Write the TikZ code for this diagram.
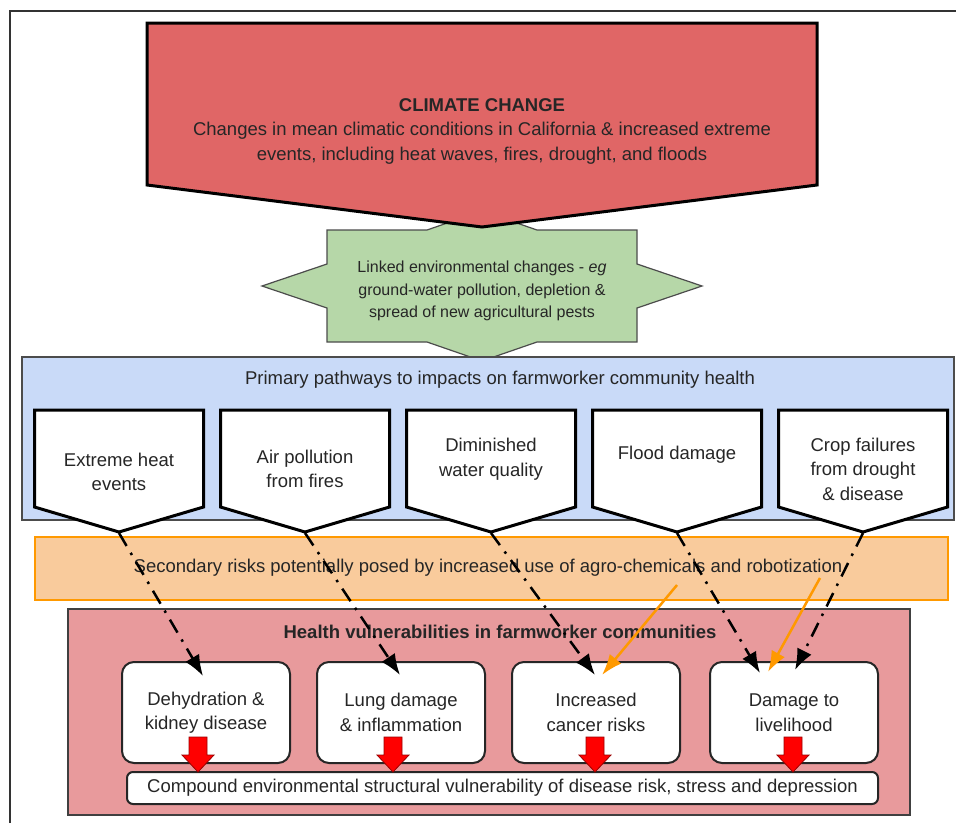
\documentclass[tikz,border=0pt]{standalone}
\usepackage{fontspec}
\setmainfont{Liberation Sans}
\usepackage{tikz}
\usetikzlibrary{arrows.meta,positioning}
\definecolor{climatered}{HTML}{E06666}
\definecolor{linkgreen}{HTML}{B6D7A8}
\definecolor{pathblue}{HTML}{C9DAF8}
\definecolor{riskorange}{HTML}{F9CB9C}
\definecolor{riskline}{HTML}{FF9900}
\definecolor{healthpink}{HTML}{E89A9C}

\begin{document}
\begin{tikzpicture}[x=1pt, y=-1pt,
    txt/.style={font=\fontsize{18.5}{24.5}\selectfont, align=center, text=black!85, inner sep=0pt},
    pathbox/.style={draw=black, line width=3pt, fill=white, line join=miter},
    vulbox/.style={draw=black!85, line width=2pt, fill=white, rounded corners=12pt, minimum width=168pt, minimum height=101pt, txt},
    chain/.style={line width=2.5pt, dash pattern=on 15pt off 8pt on 2.5pt off 8pt, -{Latex[length=21pt,width=16pt]}},
    sidearrow/.style={riskline, line width=2.5pt, -{Latex[length=21pt,width=15pt]}}
]
\useasboundingbox (0,0) rectangle (956,823);

% Frame
\draw[line width=2pt, black!80] (10,823) -- (10,11) -- (956,11);

% Linked changes (star, partly under the other boxes)
\draw[fill=linkgreen, draw=black!70, line width=1.2pt]
    (482,211) -- (537,230) -- (637,230) -- (637,264) -- (702,286) -- (637,308) -- (637,342)
    -- (537,342) -- (482,361) -- (427,342) -- (327,342) -- (327,308) -- (262,286) -- (327,264)
    -- (327,230) -- (427,230) -- cycle;
\node[txt, font=\fontsize{16}{22.5}\selectfont] (linked) at (482,291)
    {Linked environmental changes - \textit{eg}\\ground-water pollution, depletion \&\\spread of new agricultural pests};

% Climate change
\draw[fill=climatered, draw=black, line width=3pt, line join=miter]
    (147,23) -- (817,23) -- (817,185) -- (482,227) -- (147,185) -- cycle;
\node[txt] (climate) at (482,131) {\textbf{CLIMATE CHANGE}\\Changes in mean climatic conditions in California \& increased extreme\\events, including heat waves, fires, drought, and floods};

% Primary pathways
\draw[fill=pathblue, draw=black!70, line width=1.5pt] (22,357) rectangle (954,520);
\node[txt] (primary) at (500,380) {Primary pathways to impacts on farmworker community health};
\foreach \i in {1,...,5} {
    \draw[pathbox] ({119+186*(\i-1)-84.5},410) -- ({119+186*(\i-1)+84.5},410) -- ({119+186*(\i-1)+84.5},507)
        -- ({119+186*(\i-1)},532) -- ({119+186*(\i-1)-84.5},507) -- cycle;
    \coordinate (tip\i) at ({119+186*(\i-1)},533);
}
\foreach \i/\ty/\t in {1/472/{Extreme heat\\events}, 2/469/{Air pollution\\from fires}, 3/459/{Diminished\\water quality},
                       4/455/{Flood damage}, 5/469/{Crop failures\\from drought\\\& disease}} {
    \node[txt] (path\i) at ({119+186*(\i-1)},\ty) {\t};
}

% Secondary risks
\draw[fill=riskorange, draw=riskline, line width=2.5pt] (35,537) rectangle (948,600);
\node[txt] (secondary) at (488,568) {Secondary risks potentially posed by increased use of agro-chemicals and robotization};

% Health vulnerabilities
\draw[fill=healthpink, draw=black!75, line width=1.5pt] (68,609) rectangle (910,815);
\node[txt] (health) at (500,632) {\textbf{Health vulnerabilities in farmworker communities}};
\node[vulbox] (vul1) at (206,712.5) {Dehydration \&\\kidney disease};
\node[vulbox] (vul2) at (401,712.5) {Lung damage\\\& inflammation};
\node[vulbox] (vul3) at (596,712.5) {Increased\\cancer risks};
\node[vulbox] (vul4) at (794,712.5) {Damage to\\livelihood};
\node[vulbox, rounded corners=6pt, minimum width=751pt, minimum height=32pt] (compound) at (502.5,788)
    {Compound environmental structural vulnerability of disease risk, stress and depression};

% Red arrows into compound box
\foreach \x in {198,393,595,793} {
    \draw[fill=red, draw=red!60!black, line width=0.8pt]
        (\x-9,737) -- (\x+9,737) -- (\x+9,755) -- (\x+16,755) -- (\x,772) -- (\x-16,755) -- (\x-9,755) -- cycle;
}

% Pathway links
\coordinate (end1) at (203,676);
\coordinate (end2) at (400,675);
\coordinate (end3) at (595,675);
\coordinate (end4) at (760,673);
\coordinate (end5) at (795,670);
\foreach \i in {1,...,5} {
    \draw[chain] (tip\i) -- (end\i);
}

% Secondary risk links
\coordinate (risk1) at (677,585);
\coordinate (risk2) at (820,578);
\coordinate (cancer) at (602,675);
\coordinate (liveli) at (768,672);
\draw[sidearrow] (risk1) -- (cancer);
\draw[sidearrow] (risk2) -- (liveli);

\end{tikzpicture}
\end{document}
